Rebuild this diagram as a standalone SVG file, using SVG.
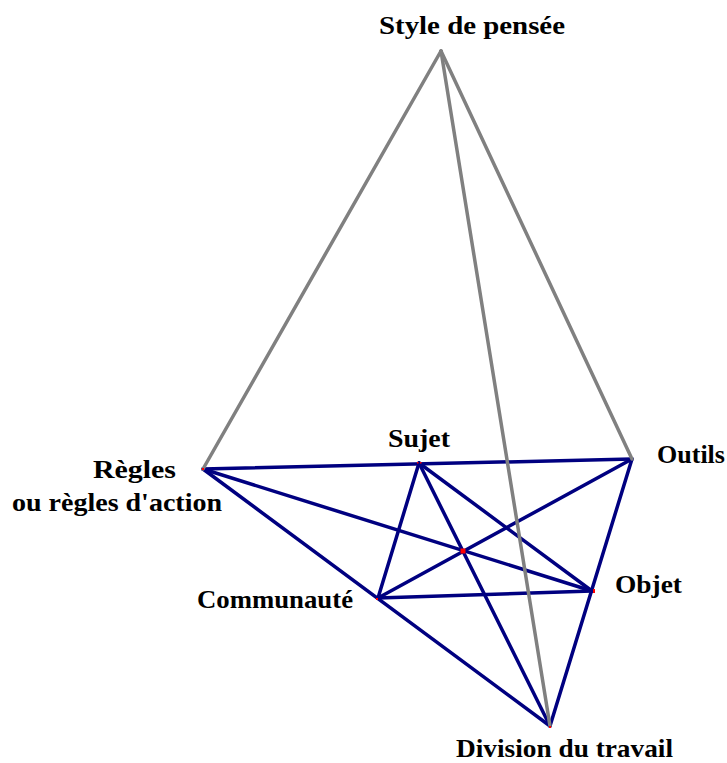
<svg xmlns="http://www.w3.org/2000/svg" width="727" height="763" viewBox="0 0 727 763">
<style>
.b{stroke:#000080;stroke-width:3.5;stroke-linecap:round;fill:none}
.g{stroke:#808080;stroke-width:3.5;stroke-linecap:round;fill:none}
.t{font-family:"Liberation Serif","Times New Roman",serif;font-weight:bold;font-size:26px;fill:#000}
.d{fill:#ff0000}
</style>
<rect width="727" height="763" fill="#fff"/>
<g id="connectors">
<g id="blue">
<line class="b" x1="203" y1="469" x2="632" y2="459"/>
<line class="b" x1="203" y1="469" x2="550" y2="726"/>
<line class="b" x1="203" y1="469" x2="592" y2="591"/>
<line class="b" x1="419" y1="463" x2="378" y2="598"/>
<line class="b" x1="419" y1="463" x2="592" y2="591"/>
<line class="b" x1="419" y1="463" x2="550" y2="726"/>
<line class="b" x1="378" y1="598" x2="632" y2="459"/>
<line class="b" x1="378" y1="598" x2="592" y2="591"/>
<line class="b" x1="632" y1="459" x2="550" y2="726"/>
</g>
<g id="gray">
<line class="g" x1="441" y1="51" x2="203" y2="469"/>
<line class="g" x1="441" y1="51" x2="632" y2="459"/>
<line class="g" x1="441" y1="51" x2="550" y2="726"/>
</g>
</g>
<g id="n-style"><text class="t" x="379" y="34" textLength="186" lengthAdjust="spacingAndGlyphs">Style de pensée</text></g>
<g id="n-regles">
<rect class="d" x="202" y="468" width="2" height="2"/>
<text class="t" x="93" y="478" textLength="83" lengthAdjust="spacingAndGlyphs">Règles</text>
<text class="t" x="12" y="511" textLength="210" lengthAdjust="spacingAndGlyphs">ou règles d'action</text>
</g>
<g id="n-sujet">
<rect class="d" x="417" y="462" width="1.5" height="1.5"/><rect class="d" x="420" y="462" width="1.5" height="1.5"/>
<text class="t" x="388" y="447" textLength="62" lengthAdjust="spacingAndGlyphs">Sujet</text>
</g>
<g id="n-outils"><text class="t" x="657" y="463" textLength="68" lengthAdjust="spacingAndGlyphs">Outils</text></g>
<g id="n-centre"><rect class="d" x="460.5" y="548.5" width="5" height="5"/></g>
<g id="n-communaute">
<rect class="d" x="376" y="598" width="2" height="2"/>
<text class="t" x="197" y="608" textLength="156" lengthAdjust="spacingAndGlyphs">Communauté</text>
</g>
<g id="n-objet">
<rect class="d" x="593" y="589" width="2" height="4"/>
<text class="t" x="615" y="593" textLength="67" lengthAdjust="spacingAndGlyphs">Objet</text>
</g>
<g id="n-division">
<rect class="d" x="549" y="726" width="2" height="2"/>
<text class="t" x="456" y="757" textLength="217" lengthAdjust="spacingAndGlyphs">Division du travail</text>
</g>
</svg>
